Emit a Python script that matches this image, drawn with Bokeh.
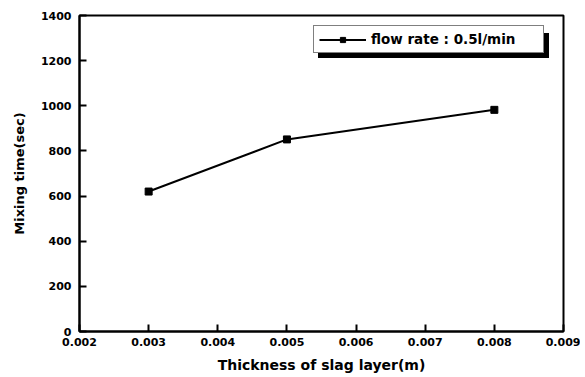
from bokeh.plotting import figure
from bokeh.models import Range1d, Legend, LegendItem, FixedTicker
from bokeh.embed import file_html
from bokeh.resources import INLINE

thickness = [0.003, 0.005, 0.008]
mixing_time = [620, 851, 982]
x_ticks = [0.002, 0.003, 0.004, 0.005, 0.006, 0.007, 0.008, 0.009]
y_ticks = [0, 200, 400, 600, 800, 1000, 1200, 1400]
series_label = "flow rate : 0.5l/min"

FONT = "DejaVu Sans"

p = figure(width=580, height=377, output_backend="svg", toolbar_location=None,
           x_range=Range1d(0.002, 0.009), y_range=Range1d(0, 1400),
           min_border_left=79, min_border_right=17, min_border_top=15, min_border_bottom=46)

p.grid.visible = False
p.outline_line_color = "black"
p.outline_line_width = 2
p.background_fill_color = "white"
p.border_fill_color = "white"

for ax in (p.xaxis[0], p.yaxis[0]):
    ax.axis_line_width = 2
    ax.major_tick_line_width = 2
    ax.major_tick_in = 7
    ax.major_tick_out = 0
    ax.minor_tick_line_color = None
    ax.major_label_text_font = FONT
    ax.major_label_text_font_style = "bold"
    ax.major_label_text_font_size = "11px"
    ax.major_label_text_color = "black"
    ax.axis_label_text_font = FONT
    ax.axis_label_text_font_style = "bold"
    ax.axis_label_text_color = "black"

p.xaxis.axis_label_text_font_size = "14px"
p.yaxis.axis_label_text_font_size = "13px"
p.xaxis.ticker = FixedTicker(ticks=x_ticks)
p.yaxis.ticker = FixedTicker(ticks=y_ticks)
p.xaxis.major_label_overrides = {t: f"{t:.3f}" for t in x_ticks}
p.xaxis.axis_label = "Thickness of slag layer(m)"
p.yaxis.axis_label = "Mixing time(sec)"
p.xaxis.axis_label_standoff = 8
p.yaxis.axis_label_standoff = 11
p.xaxis.major_label_standoff = 6
p.yaxis.major_label_standoff = 8

ln = p.line(thickness, mixing_time, line_color="black", line_width=2)
mk = p.scatter(thickness, mixing_time, marker="square", size=7,
               fill_color="black", line_color="black")

common = dict(orientation="vertical", label_text_font=FONT, label_text_font_style="bold",
              label_text_font_size="13.5px", glyph_width=47, glyph_height=13,
              label_height=13, label_width=167, padding=5, margin=0, spacing=0,
              label_standoff=5, border_line_width=1.5)

# shadow of the legend box (drawn first, offset down-right, no text)
shadow = Legend(items=[LegendItem(label="", renderers=[ln, mk])],
                location=(239, 273), border_line_color="black",
                background_fill_color="black", background_fill_alpha=1,
                label_text_color="black", **common)
p.add_layout(shadow, "center")

legend = Legend(items=[LegendItem(label=series_label, renderers=[ln, mk])],
                location=(234, 278), border_line_color="black",
                background_fill_color="white", background_fill_alpha=1,
                label_text_color="black", **common)
p.add_layout(legend, "center")

open("out.html", "w").write(file_html(p, INLINE))
